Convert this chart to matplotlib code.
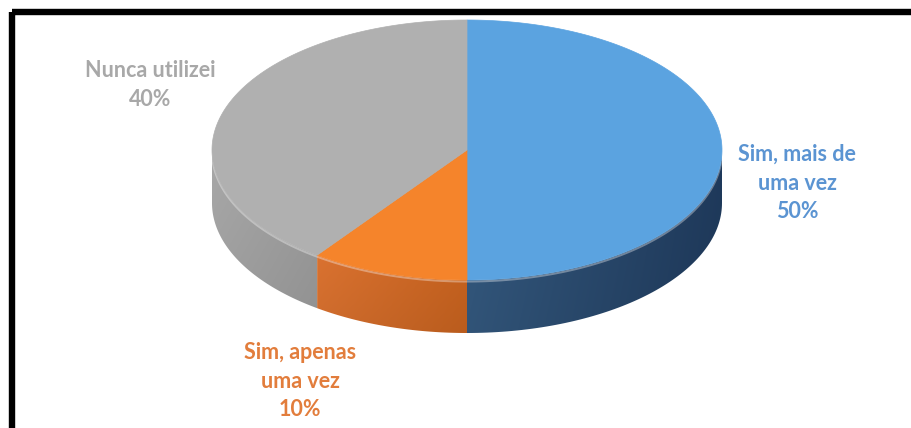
import numpy as np
import matplotlib
matplotlib.use("Agg")
import matplotlib.pyplot as plt
from matplotlib.patches import Polygon, Rectangle
from matplotlib.colors import to_rgb

# ---- data ----
categories = ["Sim, mais de\numa vez", "Sim, apenas\numa vez", "Nunca utilizei"]
values = [50, 10, 40]
pct_labels = ["50%", "10%", "40%"]

top_colors = ["#5BA3E0", "#F5842B", "#B0B0B0"]
side_left = ["#34597F", "#DA7230", "#A8A8A8"]
side_right = ["#1F3A5C", "#C6621F", "#9C9C9C"]
label_colors = ["#5B94D2", "#E27D3C", "#A8A8A8"]
label_pos = [(797, 183), (300, 381), (150, 85)]

W, H = 912, 428
fig = plt.figure(figsize=(W / 100, H / 100), dpi=100)
ax = fig.add_axes([0, 0, 1, 1])
ax.set_xlim(0, W)
ax.set_ylim(H, 0)
ax.axis("off")

cx, cy, a, b, depth = 467, 150, 255, 130, 53


def pt(theta, dy=0.0):
    return cx + a * np.cos(theta), cy - b * np.sin(theta) + dy


total = float(sum(values))
start = 90.0
wedges = []
for v in values:
    sweep = 360.0 * v / total
    wedges.append((start - sweep, start))
    start -= sweep

# sides (front, lower half: angles in [180, 360])
for i, (t1, t2) in enumerate(wedges):
    lo, hi = t1 % 360, t2 % 360
    if hi <= lo:
        hi += 360
    segs = []
    for base in (0, 360):
        s = max(lo, 180 + base)
        e = min(hi, 360 + base)
        if e > s:
            segs.append((s, e))
    for s, e in segs:
        th = np.radians(np.linspace(s, e, 80))
        xs, ys = pt(th)
        xb, yb = pt(th[::-1], depth)
        poly = np.column_stack([np.concatenate([xs, xb]), np.concatenate([ys, yb])])
        patch = Polygon(poly, closed=True, facecolor="none", edgecolor="none")
        ax.add_patch(patch)
        x0, x1 = poly[:, 0].min(), poly[:, 0].max()
        y0, y1 = poly[:, 1].min(), poly[:, 1].max()
        c1 = np.array(to_rgb(side_left[i]))
        c2 = np.array(to_rgb(side_right[i]))
        n = 200
        tt = np.linspace(0, 1, n)
        grad = c1[None, :] * (1 - tt[:, None]) + c2[None, :] * tt[:, None]
        vert = np.linspace(1.0, 0.94, 60)
        img = grad[None, :, :] * vert[:, None, None]
        im = ax.imshow(np.clip(img, 0, 1), extent=[x0, x1, y1, y0], aspect="auto",
                       interpolation="bilinear", zorder=1)
        im.set_clip_path(patch)
        # rim highlight
        ax.plot(xs, ys + 1.5, color="white", alpha=0.35, lw=1.5, zorder=2,
                solid_capstyle="butt")

# top faces
for i, (t1, t2) in enumerate(wedges):
    th = np.radians(np.linspace(t1, t2, 150))
    xs, ys = pt(th)
    poly = np.column_stack([np.concatenate([[cx], xs]), np.concatenate([[cy], ys])])
    ax.add_patch(Polygon(poly, closed=True, facecolor=top_colors[i],
                         edgecolor=top_colors[i], lw=0.5, zorder=3))

# labels
for i in range(len(values)):
    x, y = label_pos[i]
    ax.text(x, y, categories[i] + "\n" + pct_labels[i], ha="center", va="center",
            color=label_colors[i], fontsize=15.5, fontweight="bold",
            family=["Lato", "DejaVu Sans"], linespacing=1.45, zorder=5)

# frame
ax.add_patch(Rectangle((12, 12), 960, 460, facecolor="none", edgecolor="black",
                       lw=4.6, zorder=6, clip_on=True))

fig.savefig("out.png", dpi=100)
